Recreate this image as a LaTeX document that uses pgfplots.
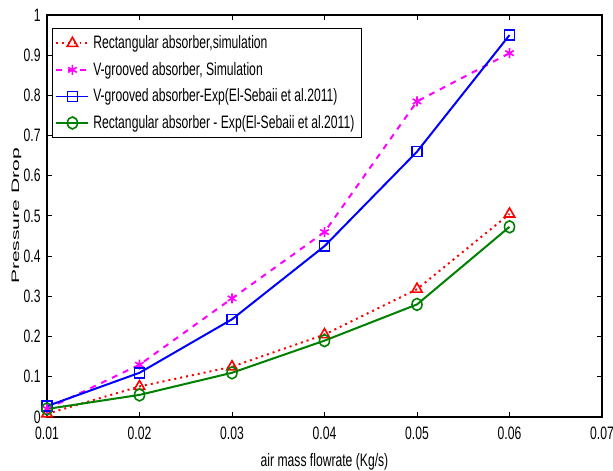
\documentclass[border=0pt]{standalone}
\usepackage{fontspec}
\setmainfont{Liberation Sans}[FakeStretch=0.675]
\newfontfamily\ylfont{Liberation Sans}[FakeStretch=1.95]
\usepackage{pgfplots}
\pgfplotsset{compat=1.18}
\usetikzlibrary{calc}
\definecolor{mag}{rgb}{1,0,1}
\definecolor{grn}{rgb}{0,0.5,0}
\begin{document}
\fontsize{9pt}{11pt}\selectfont
\begin{tikzpicture}
\begin{axis}[
  name=ax,
  scale only axis,
  width=277.5pt, height=201pt,
  xmin=0.01, xmax=0.07, ymin=0, ymax=1,
  xtick={0.01,0.02,0.03,0.04,0.05,0.06,0.07},
  ytick={0,0.1,0.2,0.3,0.4,0.5,0.6,0.7,0.8,0.9,1},
  scaled x ticks=false, scaled y ticks=false,
  xticklabel style={/pgf/number format/fixed,/pgf/number format/precision=2, yshift=-2pt},
  yticklabel style={/pgf/number format/fixed,/pgf/number format/precision=1},
  /pgf/number format/assume math mode=true,
  tick align=inside,
  major tick length=2.5pt,
  tick style={black, line width=0.5pt},
  axis line style={line width=0.6pt},
  ticklabel style={font=\fontsize{9pt}{11pt}\selectfont},
  xlabel={air mass flowrate (Kg/s)},
  ylabel={Pressure Drop},
  xlabel style={font=\fontsize{9pt}{11pt}\selectfont, yshift=-0.5pt},
  ylabel style={font=\ylfont\fontsize{5.4pt}{7pt}\selectfont, yshift=-5pt},
  legend style={at={(0.009,0.968)}, anchor=north west, draw=black, line width=0.6pt,
    font=\fontsize{9pt}{11pt}\selectfont, inner sep=1.5pt, row sep=1.4pt,
    cells={anchor=west}},
  legend image post style={line width=0.9pt},
  legend image code/.code={\draw[mark repeat=2,mark phase=2] plot coordinates {(0cm,0cm) (0.28cm,0cm) (0.56cm,0cm)};},
]
\addplot[red, dotted, line width=1pt, mark=triangle, mark size=3pt, mark options={solid, line width=0.8pt}]
  coordinates {(0.01,0.008) (0.02,0.076) (0.03,0.125) (0.04,0.205) (0.05,0.318) (0.06,0.505)};
\addlegendentry{Rectangular absorber,simulation}
\addplot[mag, dashed, line width=1pt, mark=asterisk, mark size=2.5pt, mark options={solid, line width=0.8pt}]
  coordinates {(0.01,0.02) (0.02,0.13) (0.03,0.295) (0.04,0.46) (0.05,0.785) (0.06,0.905)};
\addlegendentry{V-grooved absorber, Simulation}
\addplot[blue, solid, line width=1pt, mark=square, mark size=2.5pt, mark options={solid, line width=0.8pt}]
  coordinates {(0.01,0.027) (0.02,0.11) (0.03,0.243) (0.04,0.425) (0.05,0.66) (0.06,0.95)};
\addlegendentry{V-grooved absorber-Exp(El-Sebaii et al.2011)}
\addplot[grn, solid, line width=1pt, mark=o, mark size=2.5pt, mark options={solid, line width=0.8pt, yscale=1.2}]
  coordinates {(0.01,0.02) (0.02,0.055) (0.03,0.11) (0.04,0.19) (0.05,0.28) (0.06,0.473)};
\addlegendentry{Rectangular absorber - Exp(El-Sebaii et al.2011)}
\end{axis}
\pgfresetboundingbox
\useasboundingbox ($(ax.south west)+(-23.5pt,-26.5pt)$) rectangle ($(ax.north east)+(5.5pt,7.5pt)$);
\end{tikzpicture}
\end{document}
